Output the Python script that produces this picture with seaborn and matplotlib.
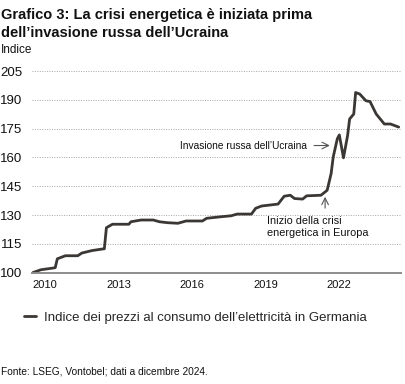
import pandas as pd
import numpy as np
import matplotlib
matplotlib.use("Agg")
import matplotlib.pyplot as plt
import seaborn as sns

# values (monthly index, 2010 = 100)
dates = ['2010-01', '2010-05', '2010-11', '2010-12', '2011-01', '2011-05', '2011-11',
         '2012-01', '2012-06', '2012-11', '2012-12', '2013-01', '2013-04', '2013-12',
         '2014-01', '2014-06', '2014-12', '2015-03', '2015-07', '2015-12', '2016-04',
         '2016-12', '2017-02', '2017-09', '2018-02', '2018-05', '2018-12', '2019-02',
         '2019-05', '2020-01', '2020-04', '2020-07', '2020-09', '2021-01', '2021-03',
         '2021-10', '2022-01', '2022-03', '2022-04', '2022-06', '2022-07', '2022-09',
         '2022-11', '2022-12', '2023-02', '2023-03', '2023-05', '2023-08', '2023-10',
         '2024-01', '2024-05', '2024-08', '2024-12']
index_values = [100.0, 101.5, 102.4, 102.6, 107.2, 108.8, 108.8,
                110.2, 111.5, 112.3, 112.4, 123.4, 125.2, 125.2,
                126.5, 127.4, 127.4, 126.5, 126.0, 125.7, 126.9,
                126.9, 128.3, 129.1, 129.6, 130.5, 130.5, 133.5,
                134.7, 135.7, 139.8, 140.3, 138.6, 138.3, 140.0,
                140.3, 142.9, 151.6, 160.2, 169.7, 171.7, 159.8,
                171.4, 180.0, 182.6, 193.8, 193.0, 189.5, 189.1,
                182.6, 177.4, 177.4, 175.8]
y_ticks = [100, 115, 130, 145, 160, 175, 190, 205]
x_years = [2010, 2013, 2016, 2019, 2022]

series_name = "Indice dei prezzi al consumo dell\u2019elettricità in Germania"

df = pd.DataFrame({'date': pd.to_datetime(dates), 'value': index_values})

sns.set_theme(style="white")
plt.rcParams['font.family'] = ['Liberation Sans', 'DejaVu Sans']

line_color = '#3b3734'
text_color = '#111111'

fig = plt.figure(figsize=(4.06, 3.84), dpi=100)
ax = fig.add_axes([0.0788, 0.289, 0.909, 0.5286])

sns.lineplot(data=df, x='date', y='value', ax=ax, color=line_color,
             linewidth=2.0, label=series_name, legend=False)

ax.set_ylim(99.8, 205.5)
ax.set_xlim(pd.Timestamp('2009-12-20'), pd.Timestamp('2025-01-05'))
ax.set_yticks(y_ticks)
ax.set_yticklabels([str(v) for v in y_ticks], fontsize=9.5, color=text_color)
ax.set_xticks([pd.Timestamp(f'{y}-07-01') for y in x_years])
ax.set_xticklabels([str(y) for y in x_years], fontsize=8, color=text_color)
ax.tick_params(axis='y', length=0, pad=7)
ax.tick_params(axis='x', length=0, pad=5)
ax.set_xlabel('')
ax.set_ylabel('')

for v in y_ticks[1:]:
    ax.axhline(v, color='#a5a5a5', linewidth=0.7, linestyle=(0, (1, 1.5)), zorder=0)

for s in ['top', 'right', 'left']:
    ax.spines[s].set_visible(False)
ax.spines['bottom'].set_color('#8c8c8c')
ax.spines['bottom'].set_linewidth(1.4)

# annotations
ax.text(pd.Timestamp('2016-01-01'), 166.2, "Invasione russa dell\u2019Ucraina",
        fontsize=7.3, color=text_color, va='center', ha='left')
ax.annotate("",
            xy=(pd.Timestamp('2022-02-10'), 166.2),
            xytext=(pd.Timestamp('2021-06-20'), 166.2),
            arrowprops=dict(arrowstyle='->', color='#555555', lw=0.8,
                            shrinkA=0, shrinkB=0))
ax.annotate("",
            xy=(pd.Timestamp('2021-12-01'), 139.5),
            xytext=(pd.Timestamp('2021-12-01'), 133.6),
            arrowprops=dict(arrowstyle='->', color='#555555', lw=0.8,
                            shrinkA=0, shrinkB=0))
ax.text(pd.Timestamp('2019-07-15'), 129.3, "Inizio della crisi\nenergetica in Europa",
        fontsize=7.8, color=text_color, va='top', ha='left', linespacing=1.2)

# titles
fig.text(0.003, 0.978, "Grafico 3: La crisi energetica è iniziata prima\ndell\u2019invasione russa dell\u2019Ucraina",
         fontsize=10.5, fontweight='bold', va='top', ha='left', color=text_color,
         linespacing=1.3)
fig.text(0.003, 0.885, "Indice", fontsize=8.5, va='top', ha='left', color=text_color)

# legend
handles, labels = ax.get_legend_handles_labels()
fig.legend(handles, labels, loc='center left', bbox_to_anchor=(0.03, 0.172),
           frameon=False, fontsize=9.5, handlelength=0.9, handletextpad=0.6)

fig.text(0.003, 0.02, "Fonte: LSEG, Vontobel; dati a dicembre 2024.",
         fontsize=7.3, va='bottom', ha='left', color=text_color)

fig.savefig('out.png', dpi=100)
